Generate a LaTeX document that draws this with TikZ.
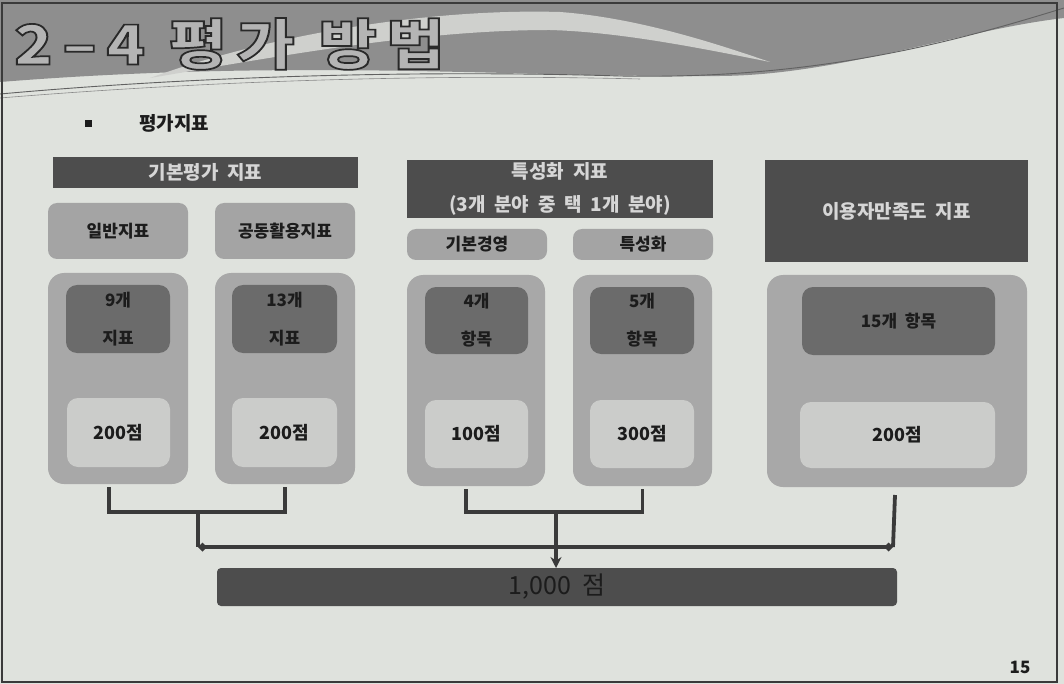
\documentclass[tikz,border=0pt]{standalone}
\usepackage{fontspec}
\usepackage{graphicx}
\setmainfont{Noto Sans CJK KR}
\newfontfamily\titlefont{Noto Sans CJK KR}[LetterSpace=15, BoldFont={Noto Sans CJK KR Black}]
\usetikzlibrary{arrows.meta}
\definecolor{bgc}{HTML}{DFE2DD}
\definecolor{swdark}{HTML}{8E8E8E}
\definecolor{swlight}{HTML}{CFD0CD}
\definecolor{hdrc}{HTML}{4D4D4D}
\definecolor{hdrtxt}{HTML}{D6D6D6}
\definecolor{subc}{HTML}{A4A4A4}
\definecolor{outc}{HTML}{A8A8A8}
\definecolor{dkc}{HTML}{6B6B6B}
\definecolor{ltc}{HTML}{CBCCCA}
\definecolor{linec}{HTML}{3A3A3A}
\definecolor{txtc}{HTML}{1C1C1C}
\definecolor{ttlfill}{HTML}{B4B4B4}
\tikzset{
  box/.style={inner sep=0pt, outer sep=0pt, align=center},
  hdr/.style={box, fill=hdrc, text=hdrtxt, font=\bfseries\fontsize{19}{33}\selectfont},
  sub/.style={box, fill=subc, rounded corners=9pt, text=txtc, font=\bfseries\fontsize{17}{20}\selectfont},
  outer/.style={box, fill=outc, rounded corners=16pt},
  dk/.style={box, fill=dkc, rounded corners=11pt, text=txtc, font=\bfseries\fontsize{17}{38}\selectfont},
  lt/.style={box, fill=ltc, rounded corners=11pt, text=txtc, font=\bfseries\fontsize{18}{20}\selectfont},
  conn/.style={draw=linec, line width=3.8pt},
  ttl/.style={anchor=west, inner sep=0pt, text=ttlfill, font=\titlefont\bfseries\fontsize{55}{55}\selectfont}
}
\newcommand{\outlinetext}[1]{\special{pdf:code q 0.16 0.16 0.16 RG 1.7 w 2 Tr}#1\special{pdf:code Q}}
\begin{document}
\begin{tikzpicture}[x=1pt,y=-1pt]
\useasboundingbox (0,0) rectangle (1064,684);
\fill[bgc] (0,0) rectangle (1064,684);
% header swoosh
\fill[swdark] (0,0) -- (1064,0) -- (1064,18) .. controls (960,30) and (840,75) .. (720,76)
  .. controls (520,78) and (300,58) .. (0,82) -- cycle;
\fill[swlight] (150,78) .. controls (260,38) and (420,8) .. (560,12)
  .. controls (640,18) and (720,45) .. (770,62)
  .. controls (700,48) and (620,32) .. (550,30)
  .. controls (420,30) and (280,56) .. (150,78) -- cycle;
\draw[linec!80, line width=0.9pt] (0,94) .. controls (200,76) and (420,70) .. (620,76)
  .. controls (820,80) and (960,40) .. (1064,8);
\draw[linec!60, line width=0.6pt] (0,98) .. controls (220,80) and (440,74) .. (640,79);
\draw[linec, line width=1.2pt] (2,3) rectangle (1057,682);
% title
\node[ttl] (title) at (14,44) {\scalebox{1.15}[1]{\outlinetext{2–4 평가 방법}}};
% subtitle
\node[box, fill=txtc, minimum width=7pt, minimum height=7pt] (bullet) at (88,124) {};
\node[anchor=west, inner sep=0pt, text=txtc, font=\bfseries\fontsize{19}{20}\selectfont] (subttl) at (139,123) {평가지표};
% left group
\node[hdr, minimum width=305pt, minimum height=31pt] (hdr1) at (205.5,172.5) {기본평가\ \ 지표};
\node[sub, minimum width=140pt, minimum height=56pt] (sub1) at (118,231) {일반지표};
\node[sub, minimum width=140pt, minimum height=56pt] (sub2) at (285,231) {공동활용지표};
\node[outer, minimum width=140pt, minimum height=211pt] (out1) at (118,378.5) {};
\node[outer, minimum width=140pt, minimum height=211pt] (out2) at (285,378.5) {};
\node[dk, minimum width=104pt, minimum height=68pt] (dk1) at (118,319) {9개\\지표};
\node[dk, minimum width=105pt, minimum height=68pt] (dk2) at (284.5,319) {13개\\지표};
\node[lt, minimum width=103pt, minimum height=69pt] (lt1) at (118.5,432.5) {200점};
\node[lt, minimum width=105pt, minimum height=69pt] (lt2) at (284.5,432.5) {200점};
% middle group
\node[hdr, minimum width=306pt, minimum height=58pt] (hdr2) at (560,189) {특성화\ \ 지표\\(3개\ \ 분야\ \ 중\ \ 택\ \ 1개\ \ 분야)};
\node[sub, minimum width=140pt, minimum height=31pt] (sub3) at (477,244.5) {기본경영};
\node[sub, minimum width=140pt, minimum height=31pt] (sub4) at (643,244.5) {특성화};
\node[outer, minimum width=138pt, minimum height=211pt] (out3) at (476,380.5) {};
\node[outer, minimum width=139pt, minimum height=211pt] (out4) at (642.5,380.5) {};
\node[dk, minimum width=103pt, minimum height=67pt] (dk3) at (476.5,320.5) {4개\\항목};
\node[dk, minimum width=104pt, minimum height=67pt] (dk4) at (642,320.5) {5개\\항목};
\node[lt, minimum width=103pt, minimum height=68pt] (lt3) at (476.5,434) {100점};
\node[lt, minimum width=104pt, minimum height=68pt] (lt4) at (642,434) {300점};
% right group
\node[hdr, minimum width=263pt, minimum height=102pt] (hdr3) at (896.5,211) {이용자만족도\ \ 지표};
\node[outer, minimum width=260pt, minimum height=212pt] (out5) at (897,381) {};
\node[dk, minimum width=193pt, minimum height=68pt] (dk5) at (898.5,321) {15개\ \ 항목};
\node[lt, minimum width=195pt, minimum height=66pt] (lt5) at (897.5,435) {200점};
% total bar
\node[box, fill=hdrc, rounded corners=4pt, minimum width=680pt, minimum height=38pt,
  text=txtc, font=\fontsize{25}{26}\selectfont] (bar) at (557,587) {1,000\ \ 점};
% connectors
\coordinate (b1) at ([xshift=-9pt,yshift=-3pt]out1.south);
\coordinate (b2) at ([yshift=-3pt]out2.south);
\coordinate (b3) at ([xshift=-10pt,yshift=-3pt]out3.south);
\coordinate (b4) at ([yshift=-3pt]out4.south);
\coordinate (m1) at (198,512);
\coordinate (m2) at (556,512);
\coordinate (j1) at (198,547);
\coordinate (j2) at (893,547);
\coordinate (r5) at ([xshift=-2pt,yshift=-8pt]out5.south);
\draw[conn] (b1) |- (m1) -| (b2);
\draw[conn] (b3) |- (m2) -| (b4);
\draw[conn] (m1) -- (j1);
\draw[conn] (r5) -- (j2);
\draw[conn, {Diamond[length=9pt,width=9pt]}-{Diamond[length=9pt,width=9pt]}] (j1) -- (j2);
\draw[conn, -{Stealth[length=11pt,width=11pt]}] (m2) -- (bar.north -| m2);
% page number
\node[inner sep=0pt, text=txtc, font=\bfseries\fontsize{17}{18}\selectfont] (pg) at (1020,667) {15};
\end{tikzpicture}
\end{document}
